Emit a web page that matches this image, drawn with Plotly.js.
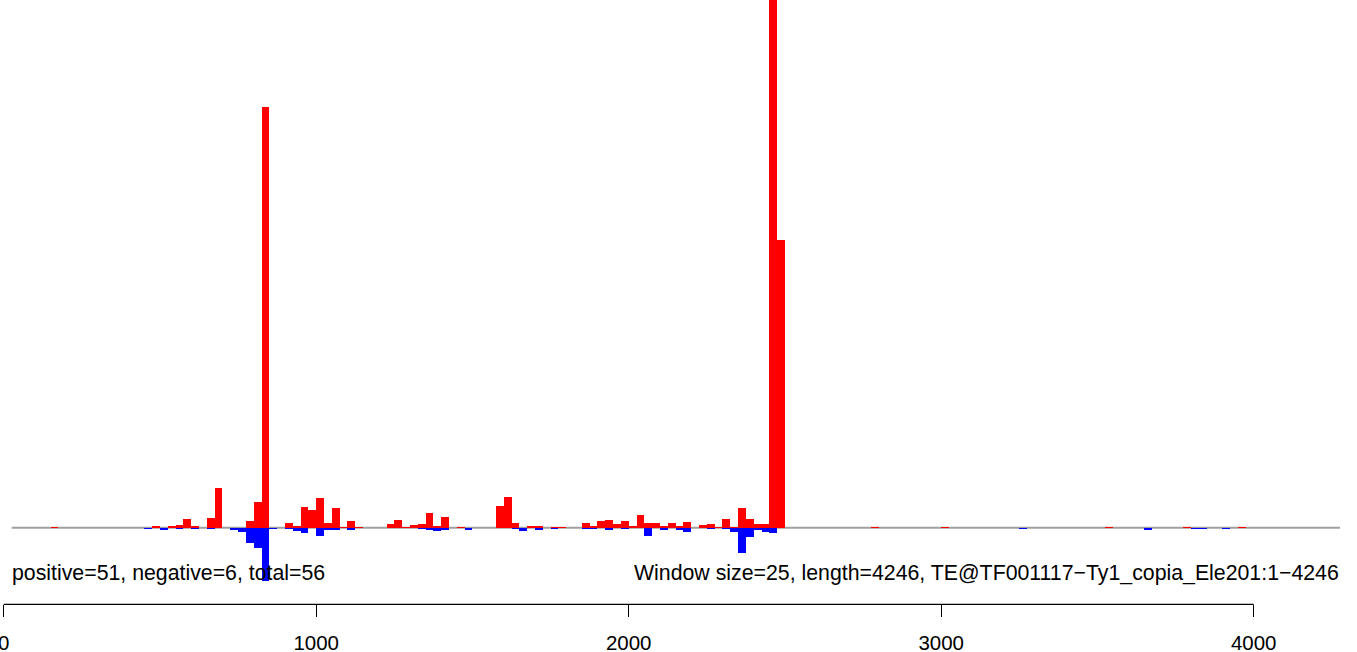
<!DOCTYPE html>
<html>
<head>
<meta charset="utf-8">
<script src="https://cdn.plot.ly/plotly-3.0.1.min.js"></script>
<style>html,body{margin:0;padding:0;background:#fff;}#chart{width:1357px;height:652px;}</style>
</head>
<body>
<div id="chart"></div>
<script>
// window start positions (window size 25) and signal heights
const windowSize = 25;
const posStart = [150,475,525,550,575,600,650,675,775,800,825,900,925,950,975,1000,1025,1050,1075,1100,1125,1225,1250,1275,1300,1325,1350,1375,1400,1450,1575,1600,1625,1675,1700,1750,1775,1850,1875,1900,1925,1950,1975,2000,2025,2050,2075,2100,2125,2150,2175,2225,2250,2275,2300,2325,2350,2375,2400,2425,2450,2475,2775,3000,3525,3775,3950];
const posValues = [1,2,2,3,9,2,10,40,7,26,421,5,2,21,18,30,5,20,1,7,1,4,8,1,3,4,15,2,11,1,22,31,5,2,2,1,1,5,2,7,8,4,7,2,13,5,5,2,5,2,6,3,4,1,9,1,20,9,4,4,600,288,1,1,1,1,1];
const negStart = [450,500,550,600,650,725,750,775,800,825,850,900,925,950,1000,1025,1050,1100,1325,1350,1375,1400,1475,1625,1650,1700,1750,1850,1875,1925,1975,2050,2100,2150,2175,2250,2300,2325,2350,2375,2400,2425,2450,3250,3650,3800,3825,3900];
const negValues = [-1,-2,-1,-1,-1,-2,-4,-15,-20,-53,-1,-1,-3,-5,-8,-2,-2,-2,-1,-2,-3,-2,-2,-1,-3,-2,-1,-1,-1,-2,-1,-8,-2,-2,-4,-1,-1,-4,-25,-9,-2,-4,-5,-1,-2,-1,-1,-1];
const tickVals = [0,1000,2000,3000,4000];
const tickLabels = ['0','1000','2000','3000','4000'];
const leftText = 'positive=51, negative=6, total=56';
const rightText = 'Window size=25, length=4246, TE@TF001117\u2212Ty1_copia_Ele201:1\u22124246';

const FONT = 'Liberation Sans, Arial, Helvetica, sans-serif';
const W = 1357, H = 652;
const pxPerUnit = 0.3125, x0px = 3.7;
const baselinePx = 527.7;

const traces = [
  {type:'bar', x:posStart, y:posValues, offset:0, width:windowSize,
   marker:{color:'#FF0000', line:{width:0}}, hoverinfo:'x+y'},
  {type:'bar', x:negStart, y:negValues, offset:0, width:windowSize,
   marker:{color:'#0000FF', line:{width:0}}, hoverinfo:'x+y'}
];

const axisY = (H - 604.3) / H;
const layout = {
  width:W, height:H, autosize:false,
  margin:{l:0,r:0,t:0,b:0,pad:0},
  paper_bgcolor:'#fff', plot_bgcolor:'#fff',
  showlegend:false, barmode:'overlay', bargap:0,
  xaxis:{range:[-x0px/pxPerUnit,(W-x0px)/pxPerUnit], anchor:'free', position:axisY,
    showgrid:false, zeroline:false, showline:false,
    ticks:'outside', ticklen:12, tickwidth:1.3, tickcolor:'#000',
    tickmode:'array', tickvals:tickVals, ticktext:tickLabels,
    tickfont:{family:FONT, size:20.5, color:'#000'}, ticklabelstandoff:8,
    ticklabeloverflow:'allow'},
  yaxis:{range:[baselinePx-H, baselinePx], visible:false, showgrid:false, zeroline:false},
  shapes:[
    {type:'line', layer:'below', xref:'paper', yref:'y', x0:11.7/W, x1:1340/W, y0:0, y1:0,
     line:{color:'#a0a0a0', width:2}},
    {type:'line', xref:'x', yref:'paper', x0:tickVals[0], x1:tickVals[tickVals.length-1], y0:axisY, y1:axisY,
     line:{color:'#000', width:1.3}}
  ],
  annotations:[
    {text:leftText, xref:'paper', yref:'paper', x:9.5/W, y:(H-573)/H, xanchor:'left', yanchor:'middle',
     showarrow:false, font:{family:FONT, size:21.3, color:'#000'}},
    {text:rightText, xref:'paper', yref:'paper', x:1341/W, y:(H-573)/H, xanchor:'right', yanchor:'middle',
     showarrow:false, font:{family:FONT, size:21.3, color:'#000'}}
  ]
};
Plotly.newPlot('chart', traces, layout, {displayModeBar:false, staticPlot:true});
</script>
</body>
</html>
